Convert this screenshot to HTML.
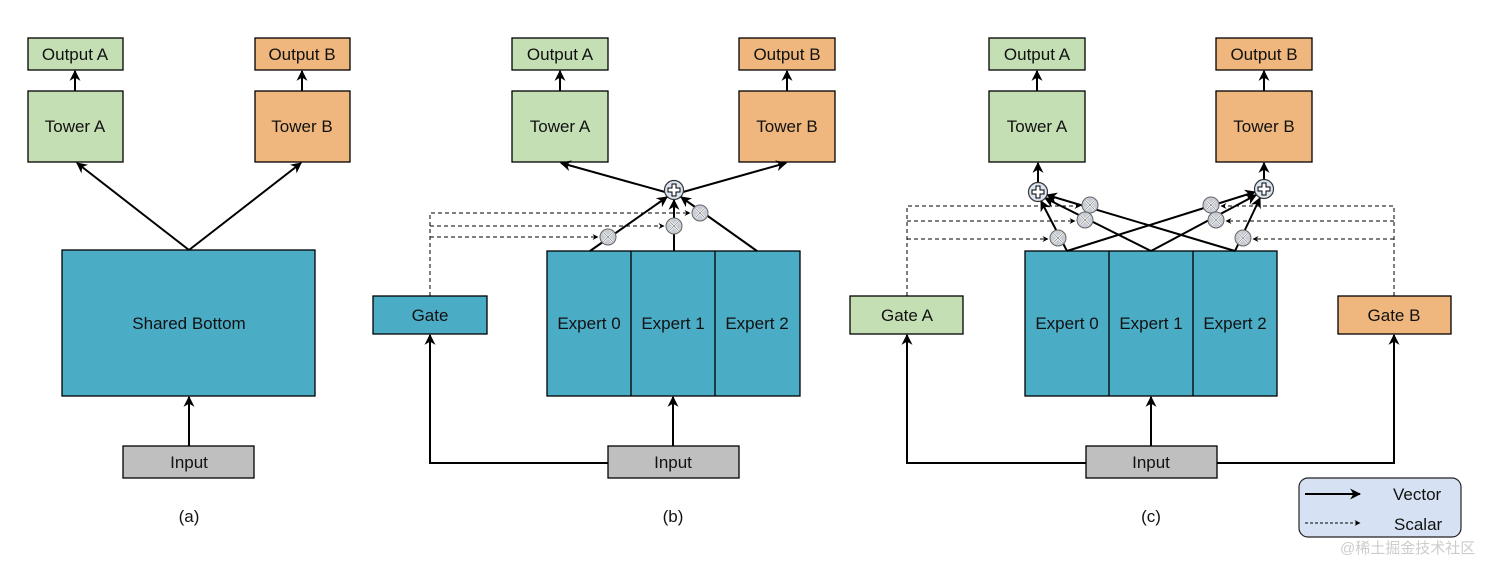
<!DOCTYPE html>
<html><head><meta charset="utf-8"><style>
html,body{margin:0;padding:0;background:#fff}
text{font-family:"Liberation Sans",Arial,sans-serif;font-size:17px;fill:#111}
</style></head><body>
<svg width="1504" height="562" viewBox="0 0 1504 562" xmlns="http://www.w3.org/2000/svg">
<defs>
<marker id="a" viewBox="0 0 10 10" refX="9" refY="5" markerWidth="11" markerHeight="11" orient="auto" markerUnits="userSpaceOnUse"><path d="M0,0 L10,5 L0,10 L3,5 z" fill="#000"/></marker>
<marker id="s" viewBox="0 0 10 10" refX="9" refY="5" markerWidth="6" markerHeight="6" orient="auto" markerUnits="userSpaceOnUse"><path d="M0,0 L10,5 L0,10 L3,5 z" fill="#000"/></marker>
<g id="plus"><circle r="9.5" fill="#dce6f2" stroke="#333" stroke-width="1.2"/><path d="M-2,-6 H2 V-2 H6 V2 H2 V6 H-2 V2 H-6 V-2 H-2 Z" fill="#fff" stroke="#000" stroke-width="1"/></g>
<g id="mul"><circle r="8" fill="#c8ccd4" stroke="#666" stroke-width="1"/><path d="M-4.5,-4.5 L4.5,4.5 M4.5,-4.5 L-4.5,4.5" stroke="#fff" stroke-width="2.2"/><path d="M-4.5,-4.5 L4.5,4.5 M4.5,-4.5 L-4.5,4.5" stroke="#777" stroke-width="0.6"/></g>
</defs>
<g stroke="#000" stroke-width="1.3">
<rect x="28" y="38" width="95" height="32" fill="#c5dfb4"/>
<rect x="255" y="38" width="95" height="32" fill="#efb77d"/>
<rect x="28" y="91" width="95" height="71" fill="#c5dfb4"/>
<rect x="255" y="91" width="95" height="71" fill="#efb77d"/>
<rect x="62" y="250" width="253" height="146" fill="#4bacc6"/>
<rect x="123" y="446" width="131" height="32" fill="#bfbfbf"/>
<rect x="512" y="38" width="96" height="32" fill="#c5dfb4"/>
<rect x="739" y="38" width="96" height="32" fill="#efb77d"/>
<rect x="512" y="91" width="96" height="71" fill="#c5dfb4"/>
<rect x="739" y="91" width="96" height="71" fill="#efb77d"/>
<rect x="373" y="296" width="114" height="38" fill="#4bacc6"/>
<rect x="547" y="251" width="253" height="145" fill="#4bacc6"/>
<line x1="631" y1="251" x2="631" y2="396"/><line x1="715" y1="251" x2="715" y2="396"/>
<rect x="608" y="446" width="131" height="32" fill="#bfbfbf"/>
<rect x="989" y="38" width="96" height="32" fill="#c5dfb4"/>
<rect x="1216" y="38" width="96" height="32" fill="#efb77d"/>
<rect x="989" y="91" width="96" height="71" fill="#c5dfb4"/>
<rect x="1216" y="91" width="96" height="71" fill="#efb77d"/>
<rect x="850" y="296" width="113" height="38" fill="#c5dfb4"/>
<rect x="1338" y="296" width="113" height="38" fill="#efb77d"/>
<rect x="1025" y="251" width="252" height="145" fill="#4bacc6"/>
<line x1="1109" y1="251" x2="1109" y2="396"/><line x1="1193" y1="251" x2="1193" y2="396"/>
<rect x="1086" y="446" width="131" height="32" fill="#bfbfbf"/>
</g>
<g stroke="#000" stroke-width="2" fill="none">
<line x1="75" y1="91" x2="75" y2="71" marker-end="url(#a)"/>
<line x1="302" y1="91" x2="302" y2="71" marker-end="url(#a)"/>
<line x1="189" y1="250" x2="77" y2="163" marker-end="url(#a)"/>
<line x1="189" y1="250" x2="301" y2="163" marker-end="url(#a)"/>
<line x1="189" y1="446" x2="189" y2="397" marker-end="url(#a)"/>
<line x1="560" y1="91" x2="560" y2="71" marker-end="url(#a)"/>
<line x1="787" y1="91" x2="787" y2="71" marker-end="url(#a)"/>
<line x1="665" y1="192" x2="561" y2="163" marker-end="url(#a)"/>
<line x1="683" y1="192" x2="786" y2="163" marker-end="url(#a)"/>
<line x1="590" y1="251" x2="667" y2="197" marker-end="url(#a)"/>
<line x1="674" y1="251" x2="674" y2="200" marker-end="url(#a)"/>
<line x1="757" y1="251" x2="681" y2="197" marker-end="url(#a)"/>
<line x1="673" y1="446" x2="673" y2="397" marker-end="url(#a)"/>
<polyline points="608,463 430,463 430,335" marker-end="url(#a)"/>
<line x1="1037" y1="91" x2="1037" y2="71" marker-end="url(#a)"/>
<line x1="1264" y1="91" x2="1264" y2="71" marker-end="url(#a)"/>
<line x1="1038" y1="183" x2="1038" y2="163" marker-end="url(#a)"/>
<line x1="1264" y1="180" x2="1264" y2="163" marker-end="url(#a)"/>
<line x1="1067" y1="251" x2="1041" y2="201" marker-end="url(#a)"/>
<line x1="1151" y1="251" x2="1045" y2="198" marker-end="url(#a)"/>
<line x1="1235" y1="251" x2="1047" y2="195" marker-end="url(#a)"/>
<line x1="1067" y1="251" x2="1255" y2="192" marker-end="url(#a)"/>
<line x1="1151" y1="251" x2="1256" y2="195" marker-end="url(#a)"/>
<line x1="1235" y1="251" x2="1260" y2="198" marker-end="url(#a)"/>
<line x1="1151" y1="446" x2="1151" y2="397" marker-end="url(#a)"/>
<polyline points="1086,463 907,463 907,335" marker-end="url(#a)"/>
<polyline points="1217,463 1394,463 1394,335" marker-end="url(#a)"/>
</g>
<g stroke="#000" stroke-width="1" fill="none" stroke-dasharray="4,3">
<polyline points="430,296 430,213 690,213" marker-end="url(#s)"/>
<polyline points="430,226 664,226" marker-end="url(#s)"/>
<polyline points="430,237 598,237" marker-end="url(#s)"/>
<polyline points="907,296 907,206 1080,206" marker-end="url(#s)"/>
<polyline points="907,221 1075,221" marker-end="url(#s)"/>
<polyline points="907,239 1048,239" marker-end="url(#s)"/>
<polyline points="1394,296 1394,206 1221,206" marker-end="url(#s)"/>
<polyline points="1394,221 1226,221" marker-end="url(#s)"/>
<polyline points="1394,239 1253,239" marker-end="url(#s)"/>
</g>
<use href="#plus" x="674" y="190"/>
<use href="#mul" x="608" y="237"/><use href="#mul" x="674" y="226"/><use href="#mul" x="700" y="213"/>
<use href="#plus" x="1038" y="192"/><use href="#plus" x="1264" y="189"/>
<use href="#mul" x="1090" y="205"/><use href="#mul" x="1085" y="220"/><use href="#mul" x="1058" y="238"/>
<use href="#mul" x="1211" y="205"/><use href="#mul" x="1216" y="220"/><use href="#mul" x="1243" y="238"/>
<g text-anchor="middle">
<text x="75" y="60">Output A</text><text x="302" y="60">Output B</text>
<text x="75" y="132">Tower A</text><text x="302" y="132">Tower B</text>
<text x="189" y="329">Shared Bottom</text><text x="189" y="468">Input</text>
<text x="189" y="522">(a)</text>
<text x="560" y="60">Output A</text><text x="787" y="60">Output B</text>
<text x="560" y="132">Tower A</text><text x="787" y="132">Tower B</text>
<text x="430" y="321">Gate</text>
<text x="589" y="329">Expert 0</text><text x="673" y="329">Expert 1</text><text x="757" y="329">Expert 2</text>
<text x="673" y="468">Input</text><text x="673" y="522">(b)</text>
<text x="1037" y="60">Output A</text><text x="1264" y="60">Output B</text>
<text x="1037" y="132">Tower A</text><text x="1264" y="132">Tower B</text>
<text x="907" y="321">Gate A</text><text x="1394" y="321">Gate B</text>
<text x="1067" y="329">Expert 0</text><text x="1151" y="329">Expert 1</text><text x="1235" y="329">Expert 2</text>
<text x="1151" y="468">Input</text><text x="1151" y="522">(c)</text>
</g>
<rect x="1299" y="478" width="162" height="59" rx="9" fill="#d6e2f3" stroke="#222" stroke-width="1.2"/>
<line x1="1305" y1="494" x2="1360" y2="494" stroke="#000" stroke-width="2" marker-end="url(#a)"/>
<line x1="1305" y1="523" x2="1360" y2="523" stroke="#000" stroke-width="1" stroke-dasharray="3,2" marker-end="url(#s)"/>
<text x="1393" y="500">Vector</text><text x="1394" y="530">Scalar</text>
<text x="1340" y="553" style="font-family:'Liberation Sans','Noto Sans CJK SC',sans-serif;font-size:15px;fill:#ccc">@稀土掘金技术社区</text>
</svg>
</body></html>
